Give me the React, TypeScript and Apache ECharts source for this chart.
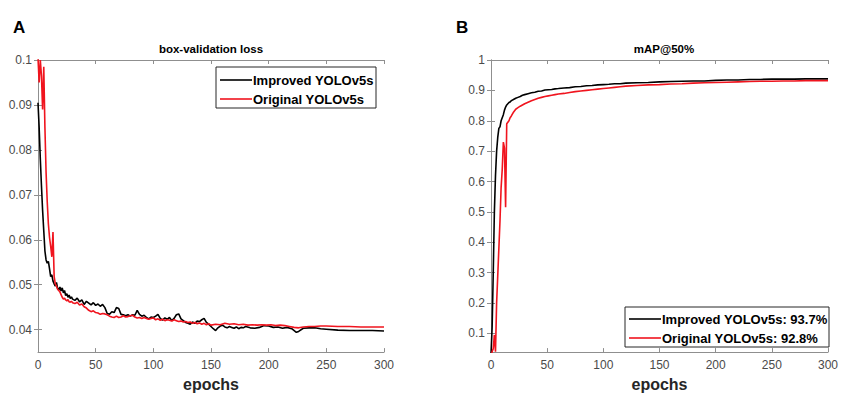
import React, { useEffect, useRef } from "react";
import * as echarts from "echarts";

// ---------- data ----------
const epochTicksMax = 300;

const lossTickValues = [0.04, 0.05, 0.06, 0.07, 0.08, 0.09, 0.1];
const mapTickValues = [0.1, 0.2, 0.3, 0.4, 0.5, 0.6, 0.7, 0.8, 0.9, 1];

const lossNames = ["Improved YOLOv5s", "Original YOLOv5s"];
const mapNames = ["Improved YOLOv5s: 93.7%", "Original YOLOv5s: 92.8%"];

const improvedLoss: [number, number][] = [
  [0, 0.0905], [1, 0.085], [2, 0.078], [3, 0.072], [4, 0.0665], [5, 0.062], [6, 0.0575], [7, 0.0555],
  [8, 0.0548], [9, 0.0552], [10, 0.0535], [11, 0.0518], [12, 0.0522], [13, 0.0508], [14, 0.0502],
  [15, 0.0497], [16, 0.0505], [17, 0.0492], [18, 0.0488], [19, 0.0495], [20, 0.0486], [21, 0.0493],
  [22, 0.0482], [23, 0.0487], [24, 0.0476], [25, 0.048], [26, 0.0472], [27, 0.0477], [28, 0.0469],
  [29, 0.0473], [30, 0.0468], [32, 0.0465], [34, 0.047], [36, 0.0462], [38, 0.0466], [40, 0.0456],
  [42, 0.0463], [44, 0.0459], [46, 0.0455], [48, 0.046], [50, 0.0454], [52, 0.0457], [54, 0.0452],
  [56, 0.0456], [58, 0.0449], [60, 0.0436], [62, 0.0434], [64, 0.044], [66, 0.0438], [68, 0.0449],
  [70, 0.0447], [72, 0.0434], [74, 0.0433], [76, 0.0431], [78, 0.0433], [80, 0.043], [82, 0.0433],
  [84, 0.0432], [86, 0.0443], [88, 0.0434], [90, 0.043], [92, 0.0432], [94, 0.0427], [96, 0.0424],
  [98, 0.0428], [100, 0.0427], [102, 0.043], [104, 0.0434], [106, 0.0425], [108, 0.0421], [110, 0.0426],
  [112, 0.0423], [114, 0.0427], [116, 0.042], [118, 0.0425], [120, 0.0433], [122, 0.0435], [124, 0.0424],
  [126, 0.042], [128, 0.0416], [130, 0.0414], [132, 0.0412], [134, 0.0417], [136, 0.0414], [138, 0.0419],
  [140, 0.0418], [142, 0.0422], [144, 0.0425], [146, 0.0416], [148, 0.0412], [150, 0.0407], [152, 0.0402],
  [154, 0.0398], [156, 0.0404], [158, 0.0408], [160, 0.041], [162, 0.0406], [164, 0.0404], [166, 0.0407],
  [168, 0.0405], [170, 0.0403], [172, 0.0406], [174, 0.0402], [176, 0.0405], [178, 0.0404], [180, 0.0407],
  [184, 0.0404], [188, 0.0403], [192, 0.0405], [196, 0.0409], [200, 0.0408], [204, 0.0405], [208, 0.0406],
  [212, 0.0403], [216, 0.0405], [220, 0.0402], [224, 0.0394], [226, 0.0396], [230, 0.0403], [235, 0.0404],
  [240, 0.0404], [245, 0.0402], [250, 0.0401], [260, 0.0399], [270, 0.0398], [280, 0.0398], [290, 0.0398],
  [300, 0.0397],
];

const originalLoss: [number, number][] = [
  [0, 0.1005], [1, 0.095], [2, 0.1], [3, 0.0965], [4, 0.089], [5, 0.0985], [6, 0.085], [7, 0.075],
  [8, 0.0685], [9, 0.0635], [10, 0.0605], [11, 0.0585], [12, 0.0562], [13, 0.0617], [14, 0.0518],
  [15, 0.0502], [16, 0.0497], [17, 0.049], [18, 0.0487], [19, 0.0484], [20, 0.0478], [21, 0.0472],
  [22, 0.0468], [23, 0.047], [24, 0.0466], [25, 0.0464], [26, 0.0467], [27, 0.0462], [28, 0.0461],
  [29, 0.0463], [30, 0.046], [32, 0.0458], [34, 0.0461], [36, 0.0455], [38, 0.0457], [40, 0.0451],
  [42, 0.0448], [44, 0.0443], [46, 0.044], [48, 0.0442], [50, 0.0438], [52, 0.0437], [54, 0.0434],
  [56, 0.0436], [58, 0.0435], [60, 0.0433], [62, 0.043], [64, 0.0428], [66, 0.0427], [68, 0.043],
  [70, 0.0427], [72, 0.0428], [74, 0.0431], [76, 0.0428], [78, 0.0429], [80, 0.0431], [82, 0.0432],
  [84, 0.0428], [86, 0.0426], [88, 0.0427], [90, 0.0425], [92, 0.0427], [94, 0.0425], [96, 0.0423],
  [98, 0.0425], [100, 0.0426], [102, 0.0422], [104, 0.0424], [106, 0.0421], [108, 0.0423], [110, 0.042],
  [112, 0.0422], [114, 0.0421], [116, 0.0419], [118, 0.0422], [120, 0.042], [122, 0.0418], [124, 0.0419],
  [126, 0.0417], [128, 0.0418], [130, 0.0416], [132, 0.0417], [134, 0.0414], [136, 0.0416], [138, 0.0413],
  [140, 0.0415], [142, 0.0412], [144, 0.0414], [146, 0.0411], [148, 0.0413], [150, 0.041], [154, 0.0412],
  [158, 0.0411], [162, 0.0414], [166, 0.0412], [170, 0.0413], [174, 0.0411], [178, 0.0412], [182, 0.041],
  [186, 0.0411], [190, 0.041], [194, 0.0411], [198, 0.041], [202, 0.0411], [206, 0.0409], [210, 0.041],
  [214, 0.0409], [218, 0.0407], [222, 0.0405], [226, 0.0404], [230, 0.0406], [235, 0.0407], [240, 0.0407],
  [245, 0.0408], [250, 0.0408], [260, 0.0407], [270, 0.0407], [280, 0.0406], [290, 0.0406], [300, 0.0406],
];

const improvedMap: [number, number][] = [
  [0, 0.03], [1, 0.12], [2, 0.3], [3, 0.5], [4, 0.62], [5, 0.7], [6, 0.745], [7, 0.775], [8, 0.78],
  [9, 0.8], [10, 0.81], [11, 0.82], [12, 0.835], [13, 0.845], [14, 0.852], [15, 0.856], [16, 0.86],
  [17, 0.862], [18, 0.866], [19, 0.868], [20, 0.87], [22, 0.874], [24, 0.877], [26, 0.88], [28, 0.884],
  [30, 0.886], [33, 0.889], [36, 0.892], [39, 0.894], [42, 0.897], [45, 0.898], [48, 0.901], [51, 0.902],
  [54, 0.903], [57, 0.905], [60, 0.906], [65, 0.908], [70, 0.909], [75, 0.912], [80, 0.913], [85, 0.915],
  [90, 0.916], [95, 0.918], [100, 0.919], [105, 0.92], [110, 0.922], [115, 0.922], [120, 0.924], [130, 0.925],
  [140, 0.926], [150, 0.928], [160, 0.929], [170, 0.93], [180, 0.931], [190, 0.931], [200, 0.933],
  [210, 0.934], [220, 0.934], [230, 0.936], [240, 0.936], [250, 0.937], [260, 0.937], [270, 0.937],
  [280, 0.938], [290, 0.938], [300, 0.938],
];

const originalMap: [number, number][] = [
  [0, 0.02], [1, 0.04], [2, 0.05], [3, 0.095], [4, 0.04], [5, 0.2], [6, 0.29], [7, 0.38], [8, 0.47],
  [9, 0.58], [10, 0.64], [11, 0.73], [12, 0.71], [13, 0.515], [14, 0.79], [15, 0.795], [16, 0.8],
  [17, 0.81], [18, 0.815], [19, 0.822], [20, 0.828], [22, 0.838], [24, 0.843], [26, 0.848], [28, 0.852],
  [30, 0.856], [33, 0.861], [36, 0.866], [39, 0.87], [42, 0.874], [45, 0.877], [48, 0.88], [51, 0.882],
  [54, 0.884], [57, 0.886], [60, 0.888], [65, 0.89], [70, 0.893], [75, 0.896], [80, 0.898], [85, 0.9],
  [90, 0.902], [95, 0.904], [100, 0.906], [105, 0.908], [110, 0.91], [115, 0.912], [120, 0.914],
  [130, 0.916], [140, 0.918], [150, 0.919], [160, 0.921], [170, 0.922], [180, 0.924], [190, 0.925],
  [200, 0.926], [210, 0.927], [220, 0.928], [230, 0.929], [240, 0.93], [250, 0.93], [260, 0.931],
  [270, 0.931], [280, 0.932], [290, 0.932], [300, 0.932],
];

// ---------- styling ----------
const FONT = "Liberation Sans, Arial, Helvetica, sans-serif";
const AXIS_COLOR = "#8f8f8f";
const LABEL_COLOR = "#4a4a4a";
const BLACK = "#000000";
const RED = "#f0141e";
const LINE_W = 1.6;

const fmt = (v: number) => String(parseFloat(v.toFixed(3)));

function xAxes(gridIndex: number) {
  const common = {
    type: "value",
    gridIndex,
    min: 0,
    max: epochTicksMax,
    interval: 50,
    splitLine: { show: false },
    axisLine: { show: true, lineStyle: { color: AXIS_COLOR, width: 1 } },
    axisTick: { show: true, inside: true, length: 4, lineStyle: { color: AXIS_COLOR } },
  };
  return [
    {
      ...common,
      position: "bottom",
      name: "epochs",
      nameLocation: "middle",
      nameGap: 23,
      nameTextStyle: { fontFamily: FONT, fontSize: 16, fontWeight: "bold", color: "#262626" },
      axisLabel: { show: true, color: LABEL_COLOR, fontFamily: FONT, fontSize: 12, margin: 7 },
    },
    { ...common, position: "top", axisLabel: { show: false } },
  ];
}

function yAxes(gridIndex: number, min: number, max: number, ticks: number[]) {
  const common = {
    type: "value",
    gridIndex,
    min,
    max,
    splitLine: { show: false },
    axisLine: { show: true, lineStyle: { color: AXIS_COLOR, width: 1 } },
    axisTick: { show: true, inside: true, length: 4, customValues: ticks, lineStyle: { color: AXIS_COLOR } },
  };
  return [
    {
      ...common,
      position: "left",
      axisLabel: {
        show: true,
        customValues: ticks,
        formatter: (v: number) => fmt(v),
        color: LABEL_COLOR,
        fontFamily: FONT,
        fontSize: 12,
        margin: 6,
      },
    },
    { ...common, position: "right", axisLabel: { show: false } },
  ];
}

function lineSeries(name: string, data: [number, number][], color: string, axisIdx: number) {
  return {
    type: "line",
    name,
    data,
    xAxisIndex: axisIdx,
    yAxisIndex: axisIdx,
    symbol: "none",
    showSymbol: false,
    clip: true,
    lineStyle: { color, width: LINE_W },
    itemStyle: { color },
  };
}

// legend box drawn as graphic: box rect, two sample lines, two labels
function legendBox(names: string[], x: number, y: number, w: number, h: number, rowYs: number[]) {
  const colors = [BLACK, RED];
  const items: any[] = [
    {
      type: "rect",
      shape: { x, y, width: w, height: h },
      style: { fill: "#ffffff", stroke: "#262626", lineWidth: 1 },
      z: 100,
    },
  ];
  names.forEach((n, i) => {
    items.push({
      type: "line",
      shape: { x1: x + 4, y1: rowYs[i], x2: x + 36, y2: rowYs[i] },
      style: { stroke: colors[i], lineWidth: LINE_W },
      z: 101,
    });
    items.push({
      type: "text",
      x: x + 37,
      y: rowYs[i],
      style: {
        text: n,
        fontFamily: FONT,
        fontSize: 13,
        fontWeight: "bold",
        fill: "#000",
        verticalAlign: "middle",
      },
      z: 101,
    });
  });
  return items;
}

export default function App() {
  const ref = useRef<HTMLDivElement>(null);

  useEffect(() => {
    if (!ref.current) return;
    const chart = echarts.init(ref.current, undefined, { renderer: "svg" });
    const option: any = {
      animation: false,
      backgroundColor: "#ffffff",
      grid: [
        { left: 38, top: 60, width: 346, height: 297 },
        { left: 491, top: 60, width: 346, height: 297 },
      ],
      xAxis: [...xAxes(0), ...xAxes(1)],
      yAxis: [...yAxes(0, 0.035, 0.1, lossTickValues), ...yAxes(1, 0.0385, 1, mapTickValues)],
      series: [
        lineSeries(lossNames[0], improvedLoss, BLACK, 0),
        lineSeries(lossNames[1], originalLoss, RED, 0),
        lineSeries(mapNames[0], improvedMap, BLACK, 2),
        lineSeries(mapNames[1], originalMap, RED, 2),
      ],
      graphic: [
        ...legendBox(lossNames, 216, 67, 160, 41, [80, 99]),
        ...legendBox(mapNames, 625, 307, 204, 40, [319, 338]),
        {
          type: "text",
          x: 13,
          y: 27,
          style: { text: "A", fontFamily: FONT, fontSize: 17, fontWeight: "bold", fill: "#000", verticalAlign: "middle" },
        },
        {
          type: "text",
          x: 456,
          y: 27,
          style: { text: "B", fontFamily: FONT, fontSize: 17, fontWeight: "bold", fill: "#000", verticalAlign: "middle" },
        },
        {
          type: "text",
          x: 211,
          y: 49,
          style: {
            text: "box-validation loss",
            fontFamily: FONT,
            fontSize: 11.5,
            fontWeight: "bold",
            fill: "#000",
            align: "center",
            verticalAlign: "middle",
          },
        },
        {
          type: "text",
          x: 664,
          y: 49,
          style: {
            text: "mAP@50%",
            fontFamily: FONT,
            fontSize: 11.5,
            fontWeight: "bold",
            fill: "#000",
            align: "center",
            verticalAlign: "middle",
          },
        },
      ],
    };
    chart.setOption(option);
    return () => chart.dispose();
  }, []);

  return (
    <div
      ref={ref}
      style={{ position: "fixed", left: 0, top: 0, width: 841, height: 397, background: "#fff" }}
    />
  );
}
